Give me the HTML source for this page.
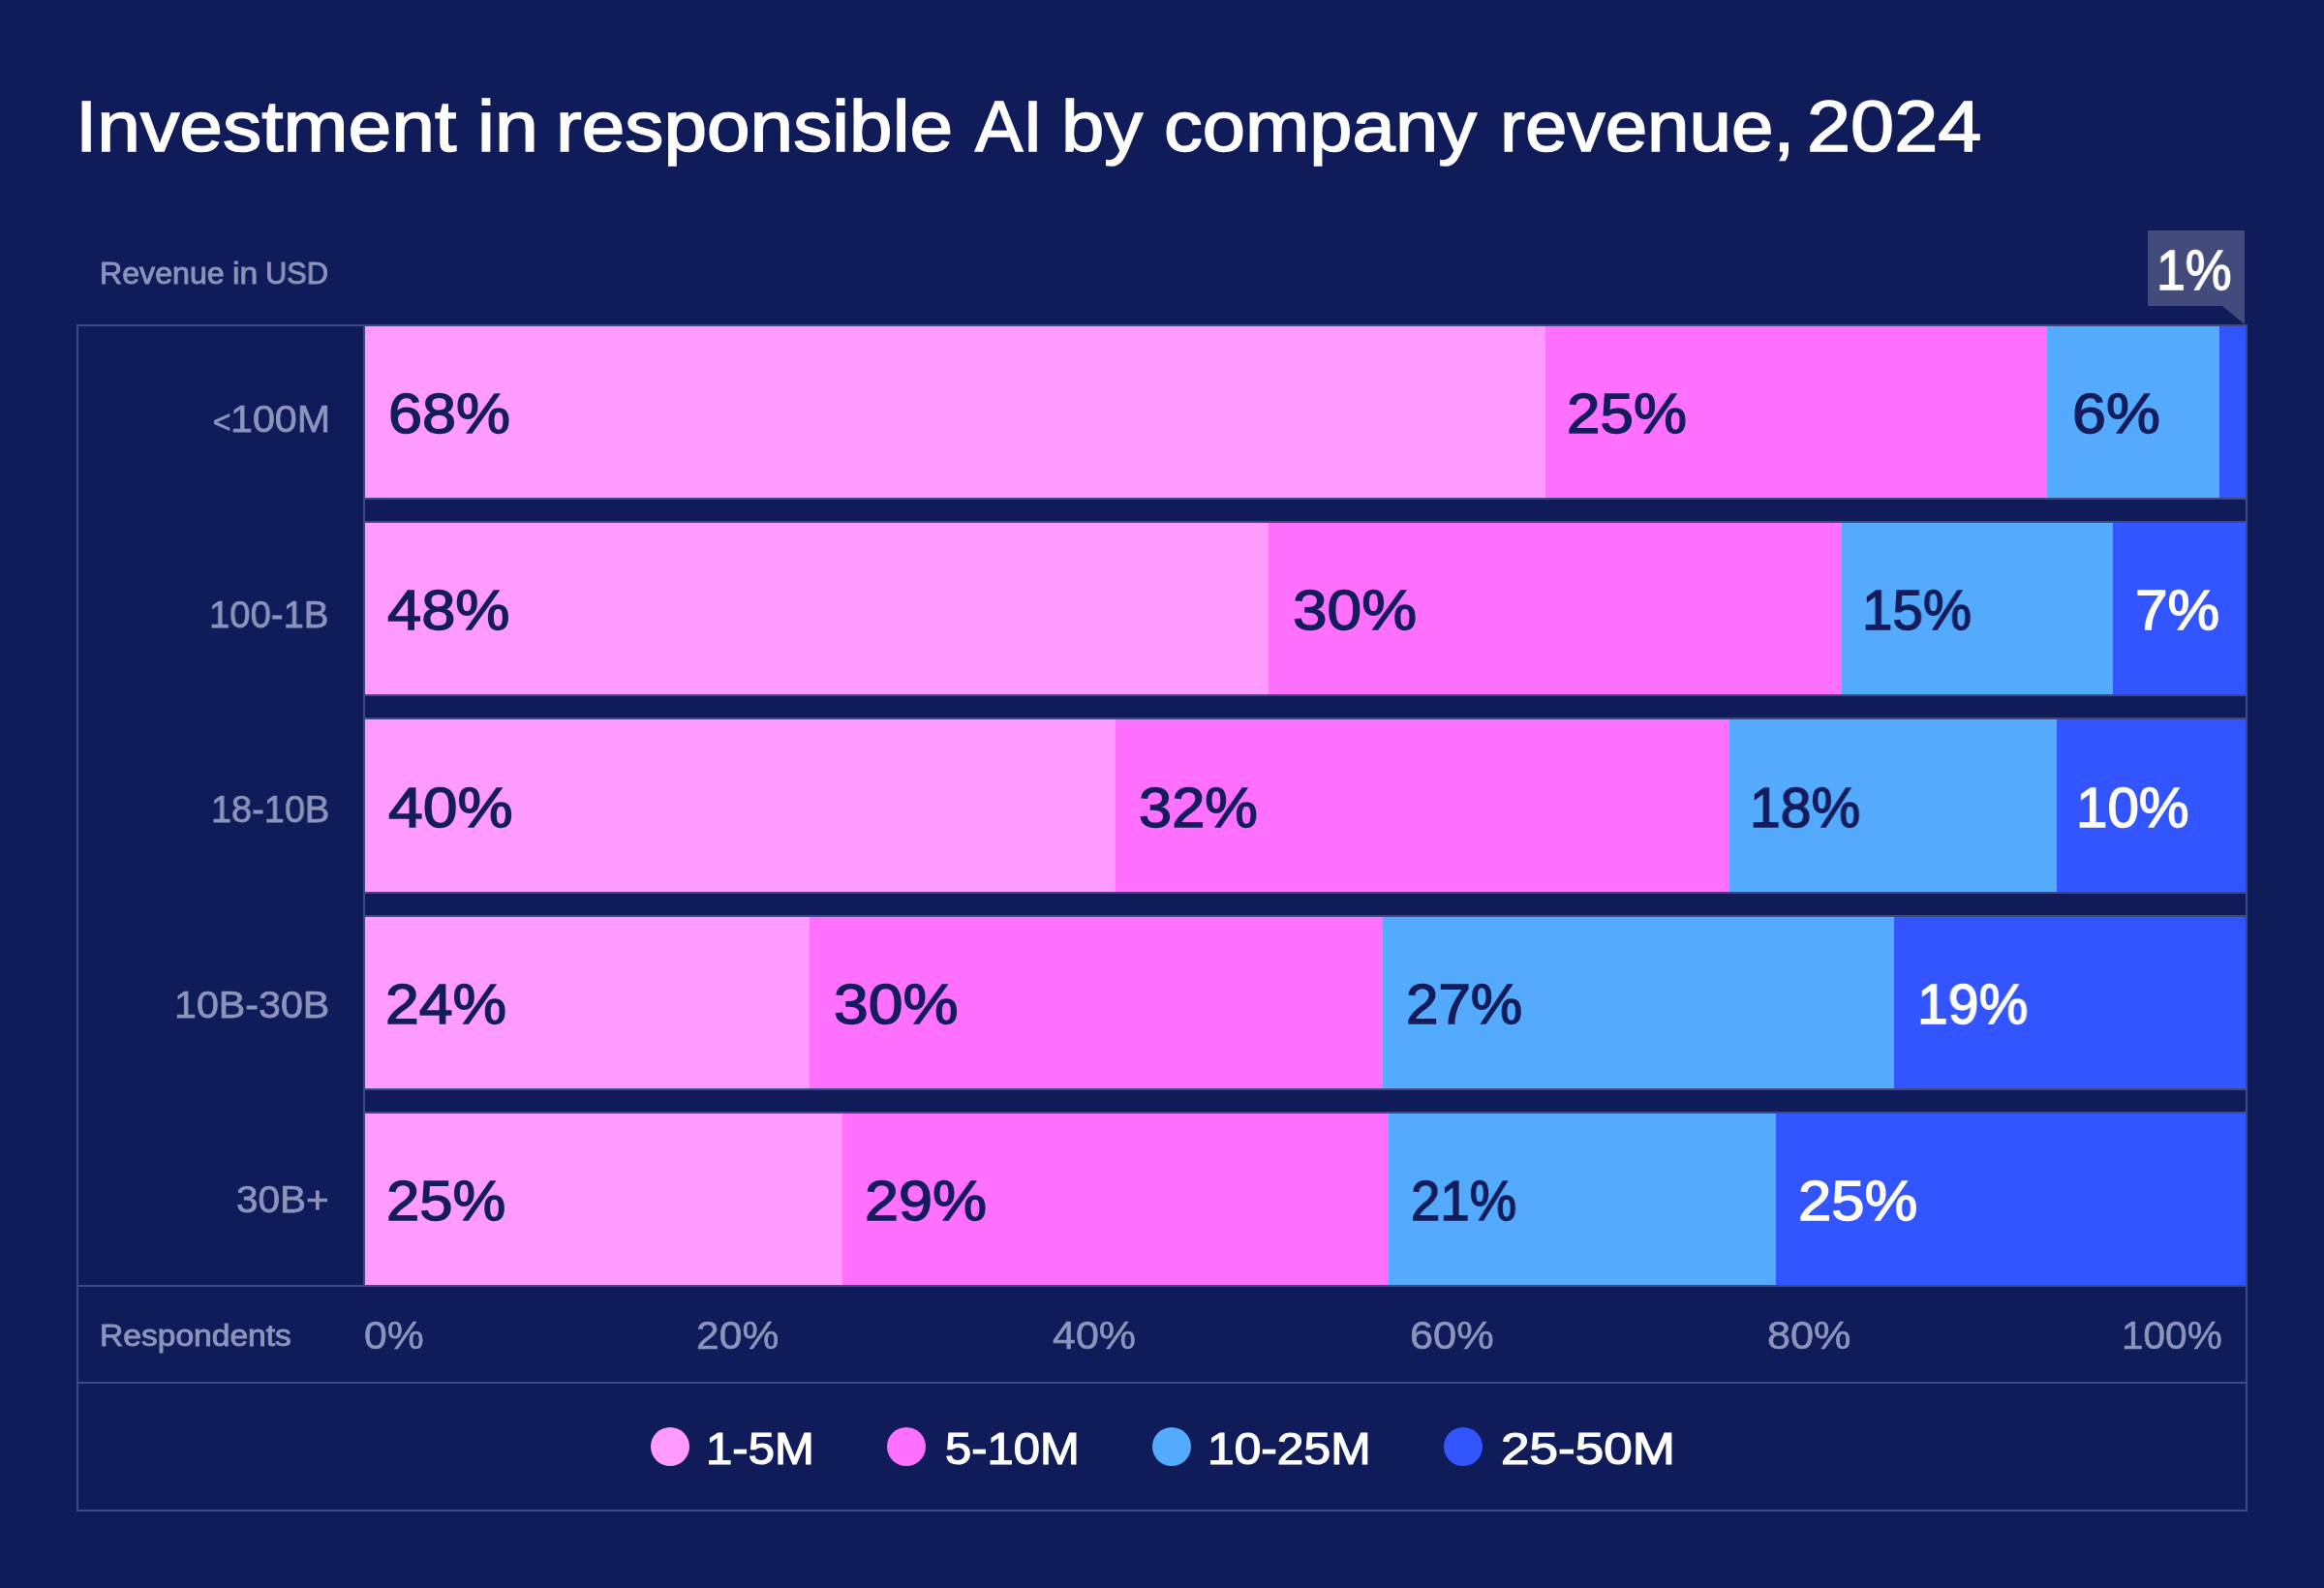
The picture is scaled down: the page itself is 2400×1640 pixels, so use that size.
<!DOCTYPE html>
<html lang="en">
<head>
<meta charset="utf-8">
<title>Investment in responsible AI by company revenue, 2024</title>
<style>
html,body{margin:0;padding:0}
body{width:2400px;height:1640px;background:#101b59;overflow:hidden;font-family:'Liberation Sans', Arial, Helvetica, sans-serif}
.chart{position:relative;width:2400px;height:1640px;background:#101b59;overflow:hidden}
/* every text run is absolutely placed against .chart; scaleX matches the reference font's set width */
.t{position:absolute;display:block;white-space:nowrap;line-height:1;transform-origin:0 0;margin:0;font-weight:400;-webkit-text-stroke-color:currentColor;will-change:transform}
.title{margin:0;font-size:73.8px;font-weight:400;color:#fff;-webkit-text-stroke-width:1.5px}
.axis-title{font-size:31.3px;color:#8d94bb;-webkit-text-stroke-width:0.9px}
.ylabel{font-size:39.3px;color:#8d94bb;-webkit-text-stroke-width:0.75px}
.ylabel.lt{font-size:32.8px}
.tick{font-size:40.0px;color:#8d94bb;-webkit-text-stroke-width:0.6px}
.legend-label{font-size:45.6px;color:#fff;-webkit-text-stroke-width:1.2px}
.val{font-size:57.9px;color:#141c5c;-webkit-text-stroke-width:1.4px}
.val.inv{color:#fff}
.ln{position:absolute;background:#404884}
.seg{position:absolute}
.pink{background:#ff9bfe}.mag{background:#ff70fe}.lb{background:#54aafc}.blue{background:#3355ff}
.dot{position:absolute;top:1474px;width:40px;height:40px;border-radius:50%}
.callout-box{position:absolute;left:2218px;top:238px;width:100px;height:78px;background:#434a7c}
.callout-tail{position:absolute;left:2295px;top:316px;width:0;height:0;border-left:23px solid transparent;border-top:19px solid #434a7c}
ul,li{margin:0;padding:0;list-style:none}

</style>
</head>
<body>
<main class="chart">
<header>
<h1 class="title">
<span class="t tw" style="left:78.39px;top:94px;transform:scaleX(1.0900)">Investment</span>
<span class="t tw" style="left:492.51px;top:94px;transform:scaleX(1.0934)">in</span>
<span class="t tw" style="left:574.45px;top:94px;transform:scaleX(1.0867)">responsible</span>
<span class="t tw" style="left:1007.31px;top:94px;transform:scaleX(1.0020)">AI</span>
<span class="t tw" style="left:1096.34px;top:94px;transform:scaleX(1.0796)">by</span>
<span class="t tw" style="left:1202.09px;top:94px;transform:scaleX(1.0785)">company</span>
<span class="t tw" style="left:1549.07px;top:94px;transform:scaleX(1.0596)">revenue,</span>
<span class="t tw" style="left:1865.60px;top:94px;transform:scaleX(1.0984)">2024</span>
</h1>
</header>
<section class="plot">
<div class="frame">
<div class="ln" style="left:79px;top:335px;width:2242px;height:2px"></div>
<div class="ln" style="left:79px;top:335px;width:2px;height:1226px"></div>
<div class="ln" style="left:2319px;top:335px;width:2px;height:1226px"></div>
<div class="ln" style="left:79px;top:1559px;width:2242px;height:2px"></div>
<div class="ln" style="left:79px;top:1327px;width:2242px;height:2px"></div>
<div class="ln" style="left:79px;top:1427px;width:2242px;height:2px"></div>
<div class="ln" style="left:375px;top:335px;width:2px;height:994px"></div>
</div>
<div class="y-axis">
<div class="axis-title-y"><span class="t axis-title" style="left:103.11px;top:267px;transform:scaleX(1.0276)">Revenue</span> <span class="t axis-title" style="left:240.25px;top:267px;transform:scaleX(1.0755)">in</span> <span class="t axis-title" style="left:273.65px;top:267px;transform:scaleX(0.9839)">USD</span></div>
<div class="t ylabel lt" style="left:219.77px;top:420px;transform:scaleX(0.9603)">&lt;</div>
<div class="t ylabel" style="left:237.55px;top:413px;transform:scaleX(1.0495)">100M</div>
<div class="t ylabel" style="left:216.25px;top:615px;transform:scaleX(0.9735)">100-1B</div>
<div class="t ylabel" style="left:217.67px;top:816px;transform:scaleX(0.9645)">18-10B</div>
<div class="t ylabel" style="left:179.75px;top:1018px;transform:scaleX(1.0480)">10B-30B</div>
<div class="t ylabel" style="left:243.83px;top:1219px;transform:scaleX(1.0300)">30B+</div>
</div>
<div class="bars">
<div class="bar-row" aria-label="&lt;100M">
<div class="seg pink" style="left:377px;top:337px;width:1219px;height:177px"></div>
<div class="seg mag" style="left:1596px;top:337px;width:518px;height:177px"></div>
<div class="seg lb" style="left:2114px;top:337px;width:178px;height:177px"></div>
<div class="seg blue" style="left:2292px;top:337px;width:27px;height:177px"></div>
<div class="t val" style="left:400.65px;top:399px;transform:scaleX(1.0880)">68%</div>
<div class="t val" style="left:1618.44px;top:399px;transform:scaleX(1.0697)">25%</div>
<div class="t val" style="left:2139.55px;top:399px;transform:scaleX(1.0864)">6%</div>
<div class="ln" style="left:377px;top:514px;width:1942px;height:2px"></div>
</div>
<div class="bar-row" aria-label="100-1B">
<div class="ln" style="left:377px;top:538px;width:1942px;height:2px"></div>
<div class="seg pink" style="left:377px;top:540px;width:933px;height:177px"></div>
<div class="seg mag" style="left:1310px;top:540px;width:592px;height:177px"></div>
<div class="seg lb" style="left:1902px;top:540px;width:280px;height:177px"></div>
<div class="seg blue" style="left:2182px;top:540px;width:137px;height:177px"></div>
<div class="t val" style="left:400.31px;top:602px;transform:scaleX(1.0918)">48%</div>
<div class="t val" style="left:1334.72px;top:602px;transform:scaleX(1.1057)">30%</div>
<div class="t val" style="left:1923.49px;top:602px;transform:scaleX(0.9750)">15%</div>
<div class="t val inv" style="left:2205.43px;top:602px;transform:scaleX(1.0430)">7%</div>
<div class="ln" style="left:377px;top:717px;width:1942px;height:2px"></div>
</div>
<div class="bar-row" aria-label="18-10B">
<div class="ln" style="left:377px;top:741px;width:1942px;height:2px"></div>
<div class="seg pink" style="left:377px;top:743px;width:774.5px;height:178px"></div>
<div class="seg mag" style="left:1151.5px;top:743px;width:634.5px;height:178px"></div>
<div class="seg lb" style="left:1786px;top:743px;width:338px;height:178px"></div>
<div class="seg blue" style="left:2124px;top:743px;width:195px;height:178px"></div>
<div class="t val" style="left:400.60px;top:806px;transform:scaleX(1.1102)">40%</div>
<div class="t val" style="left:1175.59px;top:806px;transform:scaleX(1.0605)">32%</div>
<div class="t val" style="left:1806.55px;top:806px;transform:scaleX(0.9850)">18%</div>
<div class="t val inv" style="left:2144.07px;top:806px;transform:scaleX(1.0066)">10%</div>
<div class="ln" style="left:377px;top:921px;width:1942px;height:2px"></div>
</div>
<div class="bar-row" aria-label="10B-30B">
<div class="ln" style="left:377px;top:945px;width:1942px;height:2px"></div>
<div class="seg pink" style="left:377px;top:947px;width:459px;height:177px"></div>
<div class="seg mag" style="left:836px;top:947px;width:592px;height:177px"></div>
<div class="seg lb" style="left:1428px;top:947px;width:528px;height:177px"></div>
<div class="seg blue" style="left:1956px;top:947px;width:363px;height:177px"></div>
<div class="t val" style="left:397.82px;top:1009px;transform:scaleX(1.0804)">24%</div>
<div class="t val" style="left:860.62px;top:1009px;transform:scaleX(1.1101)">30%</div>
<div class="t val" style="left:1452.31px;top:1009px;transform:scaleX(1.0385)">27%</div>
<div class="t val inv" style="left:1980.25px;top:1009px;transform:scaleX(0.9859)">19%</div>
<div class="ln" style="left:377px;top:1124px;width:1942px;height:2px"></div>
</div>
<div class="bar-row" aria-label="30B+">
<div class="ln" style="left:377px;top:1148px;width:1942px;height:2px"></div>
<div class="seg pink" style="left:377px;top:1150px;width:493px;height:177px"></div>
<div class="seg mag" style="left:870px;top:1150px;width:564px;height:177px"></div>
<div class="seg lb" style="left:1434px;top:1150px;width:400px;height:177px"></div>
<div class="seg blue" style="left:1834px;top:1150px;width:485px;height:177px"></div>
<div class="t val" style="left:399.35px;top:1212px;transform:scaleX(1.0644)">25%</div>
<div class="t val" style="left:892.60px;top:1212px;transform:scaleX(1.0884)">29%</div>
<div class="t val" style="left:1456.92px;top:1212px;transform:scaleX(0.9415)">21%</div>
<div class="t val inv" style="left:1856.75px;top:1212px;transform:scaleX(1.0644)">25%</div>
</div>
</div>
<div class="callout"><div class="callout-box"></div><div class="callout-tail"></div><div class="t val inv" style="left:2227.17px;top:251px;transform:scaleX(0.9259)">1%</div></div>
<div class="x-axis">
<div class="t axis-title" style="left:103.03px;top:1364px;transform:scaleX(1.0730)">Respondents</div>
<div class="t tick" style="left:375.98px;top:1359px;transform:scaleX(1.0671)">0%</div>
<div class="t tick" style="left:719.00px;top:1359px;transform:scaleX(1.0652)">20%</div>
<div class="t tick" style="left:1087.05px;top:1359px;transform:scaleX(1.0735)">40%</div>
<div class="t tick" style="left:1455.84px;top:1359px;transform:scaleX(1.0825)">60%</div>
<div class="t tick" style="left:1824.81px;top:1359px;transform:scaleX(1.0791)">80%</div>
<div class="t tick" style="left:2191.45px;top:1359px;transform:scaleX(1.0140)">100%</div>
</div>
</section>
<ul class="legend">
<li><span class="dot pink" style="left:672.2px"></span><span class="t legend-label" style="left:728.66px;top:1474px;transform:scaleX(1.0765)">1-5M</span></li>
<li><span class="dot mag" style="left:916px"></span><span class="t legend-label" style="left:975.61px;top:1474px;transform:scaleX(1.0742)">5-10M</span></li>
<li><span class="dot lb" style="left:1190px"></span><span class="t legend-label" style="left:1247.32px;top:1474px;transform:scaleX(1.0907)">10-25M</span></li>
<li><span class="dot blue" style="left:1491px"></span><span class="t legend-label" style="left:1549.73px;top:1474px;transform:scaleX(1.1639)">25-50M</span></li>
</ul>
</main>
</body>
</html>
